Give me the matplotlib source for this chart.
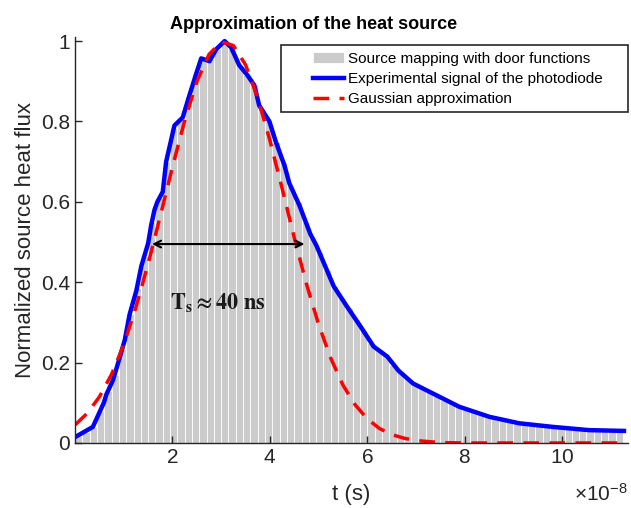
import numpy as np
import matplotlib
matplotlib.use('Agg')
import matplotlib.pyplot as plt
from matplotlib.patches import Rectangle

plt.rcParams['font.family'] = ['Liberation Sans', 'DejaVu Sans']
plt.rcParams['mathtext.fontset'] = 'custom'
plt.rcParams['mathtext.rm'] = 'Liberation Sans'
plt.rcParams['mathtext.it'] = 'Liberation Sans:italic'

# time values in units of 1e-8 s
bar_width = 0.15
bar_heights = [0.018, 0.028, 0.04, 0.08, 0.13, 0.17, 0.235, 0.32, 0.385, 0.465,
               0.55, 0.61, 0.70, 0.785, 0.805, 0.86, 0.915, 0.955, 0.955, 0.98,
               1.00, 0.98, 0.94, 0.915, 0.89, 0.83, 0.80, 0.75, 0.70, 0.64,
               0.60, 0.55, 0.51, 0.475, 0.43, 0.39, 0.36, 0.335, 0.305, 0.28,
               0.25, 0.232, 0.218, 0.195, 0.177, 0.16, 0.146, 0.136, 0.126, 0.117,
               0.108, 0.099, 0.091, 0.085, 0.078, 0.071, 0.066, 0.062, 0.058, 0.054,
               0.050, 0.047, 0.045, 0.043, 0.041, 0.040, 0.038, 0.036, 0.035, 0.033,
               0.032, 0.031, 0.030, 0.030, 0.029]

signal_t = [0.02, 0.365, 0.59, 0.64, 0.78, 0.91, 1.02, 1.12, 1.26, 1.36, 1.50, 1.56,
            1.63, 1.69, 1.80, 1.87, 2.04, 2.21, 2.35, 2.49, 2.59, 2.76, 2.90, 3.07,
            3.20, 3.37, 3.54, 3.68, 3.78, 3.99, 4.12, 4.30, 4.40, 4.61, 4.83, 4.96,
            5.17, 5.31, 5.58, 5.86, 6.13, 6.41, 6.64, 6.94, 7.48, 7.89, 8.51, 9.12,
            9.81, 10.55, 11.27]
signal_v = [0.016, 0.04, 0.10, 0.12, 0.157, 0.21, 0.256, 0.32, 0.38, 0.44, 0.497, 0.54,
            0.58, 0.60, 0.625, 0.70, 0.79, 0.81, 0.866, 0.92, 0.957, 0.95, 0.98, 1.00,
            0.985, 0.94, 0.915, 0.89, 0.84, 0.80, 0.75, 0.69, 0.646, 0.59, 0.52, 0.49,
            0.43, 0.39, 0.34, 0.29, 0.24, 0.215, 0.18, 0.148, 0.115, 0.09, 0.065, 0.049,
            0.04, 0.032, 0.03]

gauss_t = [0.0, 0.25, 0.5, 0.75, 1.0, 1.25, 1.5, 1.75, 2.0, 2.25, 2.5, 2.75, 3.0,
           3.25, 3.5, 3.75, 4.0, 4.25, 4.5, 4.75, 5.0, 5.25, 5.5, 5.75, 6.0, 6.25,
           6.5, 6.75, 7.0, 7.5, 8.0, 9.0, 10.0, 11.0, 11.3]
gauss_v = [0.045, 0.074, 0.115, 0.171, 0.245, 0.338, 0.446, 0.565, 0.687, 0.802,
           0.899, 0.967, 0.998, 0.989, 0.941, 0.859, 0.753, 0.634, 0.511, 0.396,
           0.295, 0.211, 0.144, 0.095, 0.060, 0.036, 0.021, 0.012, 0.006, 0.001,
           0.0, 0.0, 0.0, 0.0, 0.0]

fwhm_start, fwhm_end, fwhm_level = 1.58, 4.71, 0.495

scale = 1e-8
bar_x = (np.arange(len(bar_heights)) + 0.5) * bar_width * scale

fig = plt.figure(figsize=(6.31, 5.08), dpi=100)
ax = fig.add_axes([0.119, 0.128, 0.876, 0.799])

bars = ax.bar(bar_x, bar_heights, width=bar_width * scale, color='#cbcbcb',
              edgecolor='white', linewidth=0.6, label='Source mapping with door functions')
blue, = ax.plot(np.array(signal_t) * scale, signal_v, color='#0000ff', lw=3.2,
                label='Experimental signal of the photodiode')
red, = ax.plot(np.array(gauss_t) * scale, gauss_v, color='#ff0000', lw=2.5,
               dashes=(4.5, 3), label='Gaussian approximation')

ax.annotate('', xy=(fwhm_start * scale, fwhm_level), xytext=(fwhm_end * scale, fwhm_level),
            arrowprops=dict(arrowstyle='<->', color='black', lw=1.5,
                            shrinkA=0, shrinkB=0, mutation_scale=12))
ax.text(1.94 * scale, 0.331, r'$\mathbf{T_s \approx 40\ ns}$', math_fontfamily='stix',
        fontsize=16, ha='left', va='baseline', color='#1a1a1a')

ax.set_xlim(0, 11.35 * scale)
ax.set_ylim(0, 1.01)
ax.set_xticks(np.array([2, 4, 6, 8, 10]) * scale)
ax.set_yticks([0, 0.2, 0.4, 0.6, 0.8, 1])
ax.set_yticklabels(['0', '0.2', '0.4', '0.6', '0.8', '1'])
ax.ticklabel_format(axis='x', style='sci', scilimits=(-8, -8), useMathText=True)
ax.xaxis.get_offset_text().set_visible(False)
fig.text(628 / 631, (508 - 501) / 508, r'$\times10^{-8}$', fontsize=15,
         ha='right', va='baseline', color='#262626')

ax.spines['top'].set_visible(False)
ax.spines['right'].set_visible(False)
for s in ['left', 'bottom']:
    ax.spines[s].set_color('#262626')
    ax.spines[s].set_linewidth(1.0)
ax.tick_params(direction='in', length=5, width=1, labelsize=15, colors='#262626')

ax.set_xlabel('t (s)', fontsize=16, color='#262626', labelpad=12)
ax.set_ylabel('Normalized source heat flux', fontsize=16, color='#262626', labelpad=4)
ax.set_title('Approximation of the heat source', fontsize=13, fontweight='bold',
             pad=6, x=0.432)

ax.add_patch(Rectangle((0.3725, 0.815), 0.6275, 0.165, transform=ax.transAxes,
                       fill=True, facecolor='white', edgecolor='#262626', lw=1.2,
                       zorder=5, clip_on=False))
leg = ax.legend(handles=[bars, blue, red], loc='upper left', bbox_to_anchor=(0.425, 0.972),
                frameon=False, fontsize=11, handlelength=2.0, handletextpad=0.3,
                labelspacing=0.42, borderpad=0.2, borderaxespad=0)
leg.set_zorder(6)

fig.savefig('out.png', dpi=100)
